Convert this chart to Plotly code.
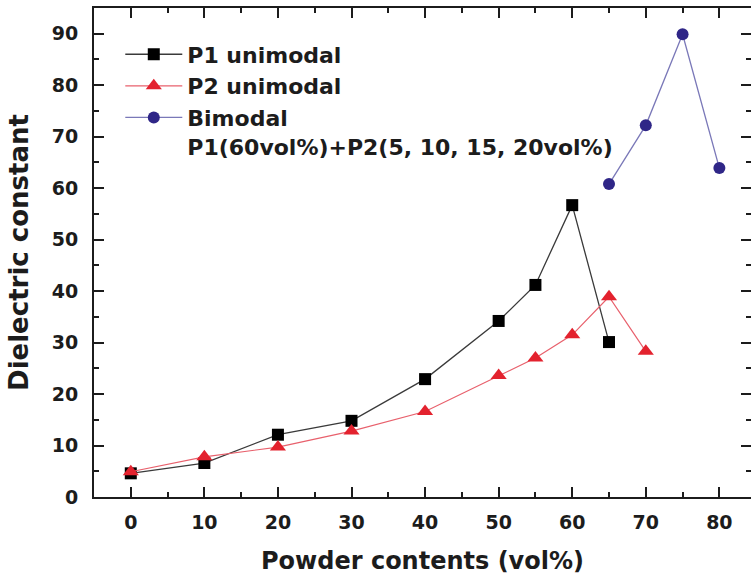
import plotly.graph_objects as go

# Powder content (vol%) and measured dielectric constant for each powder system
p1_x = [0, 10, 20, 30, 40, 50, 55, 60, 65]
p1_y = [4.6, 6.6, 12.1, 14.8, 22.9, 34.2, 41.2, 56.7, 30.1]

p2_x = [0, 10, 20, 30, 40, 50, 55, 60, 65, 70]
p2_y = [4.9, 7.8, 9.7, 12.8, 16.6, 23.6, 27.0, 31.5, 38.9, 28.3]

bi_x = [65, 70, 75, 80]
bi_y = [60.8, 72.2, 89.9, 63.9]

x_ticks = [0, 10, 20, 30, 40, 50, 60, 70, 80]
y_ticks = [0, 10, 20, 30, 40, 50, 60, 70, 80, 90]

FONT = "DejaVu Sans"
INK = "#1c1c1c"

fig = go.Figure()

fig.add_trace(go.Scatter(
    x=p1_x, y=p1_y, mode="lines+markers", name="P1 unimodal",
    line=dict(color="#3a3a3a", width=1.3),
    marker=dict(symbol="square", size=12, color="#000000"),
))
fig.add_trace(go.Scatter(
    x=p2_x, y=p2_y, mode="lines+markers", name="P2 unimodal",
    line=dict(color="#e8606c", width=1.2),
    marker=dict(symbol="triangle-up", size=14, color="#e3222e"),
))
fig.add_trace(go.Scatter(
    x=bi_x, y=bi_y, mode="lines+markers",
    name="Bimodal<br>P1(60vol%)+P2(5, 10, 15, 20vol%)",
    line=dict(color="#7a78b8", width=1.3),
    marker=dict(symbol="circle", size=12, color="#2f2687"),
))

axis_common = dict(
    showline=True, linewidth=2, linecolor=INK, mirror="ticks",
    ticks="inside", ticklen=10, tickwidth=2, tickcolor=INK,
    showgrid=False, zeroline=False,
    tickfont=dict(family=FONT, size=19, color=INK, weight="bold"),
    minor=dict(ticks="inside", ticklen=5, tickwidth=1.5, tickcolor=INK, dtick=5),
)

fig.update_xaxes(
    range=[-5, 84.3], tickvals=x_ticks, **axis_common,
    ticklabelstandoff=7,
    title=dict(text="Powder contents (vol%)", standoff=20,
               font=dict(family=FONT, size=24, color=INK, weight="bold")),
)
fig.update_yaxes(
    range=[0, 95], tickvals=y_ticks, **axis_common,
    ticklabelstandoff=10,
    title=dict(text="Dielectric constant", standoff=16,
               font=dict(family=FONT, size=26, color=INK, weight="bold")),
)

fig.update_layout(
    width=751, height=581,
    margin=dict(l=94, r=0, t=8, b=84, autoexpand=False),
    plot_bgcolor="white", paper_bgcolor="white",
    showlegend=True,
    legend=dict(
        x=0.04, y=0.948, xanchor="left", yanchor="top",
        bgcolor="rgba(0,0,0,0)", borderwidth=0,
        font=dict(family=FONT, size=22, color=INK, weight="bold"),
        itemwidth=57, valign="top", tracegroupgap=0,
    ),
)

fig.write_html("out.html")
